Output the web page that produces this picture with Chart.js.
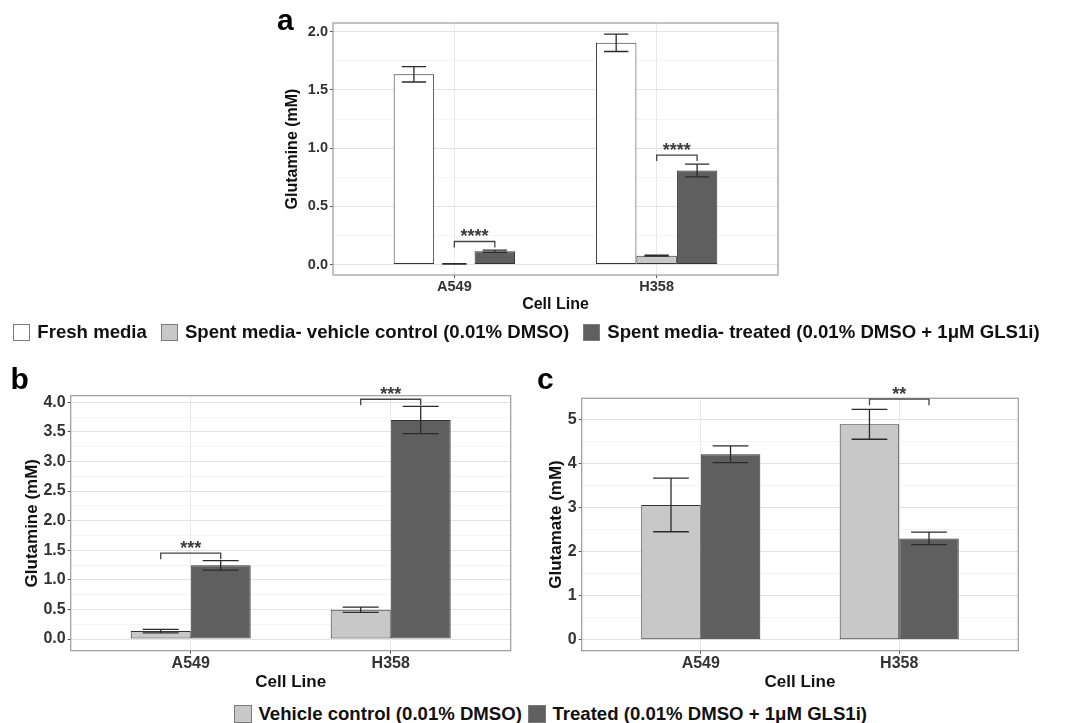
<!DOCTYPE html>
<html>
<head>
<meta charset="utf-8">
<script src="https://cdn.jsdelivr.net/npm/chart.js@4.4.1/dist/chart.umd.min.js"></script>
<style>
html, body { margin:0; padding:0; background:#fff; width:1075px; height:723px; overflow:hidden; position:relative; font-family:'Liberation Sans', Arial, sans-serif; }
canvas { position:absolute; }
.letter { position:absolute; font-weight:bold; font-size:30px; line-height:30px; color:#000; }
.legend { position:absolute; width:1075px; height:20px; display:flex; justify-content:center; align-items:center; font-weight:bold; font-size:18.6px; color:#111; white-space:nowrap; }
.item { display:flex; align-items:center; }
.sw { display:inline-block; box-sizing:border-box; border:1px solid #7a7a7a; }
</style>
</head>
<body>
<canvas id="ca" width="1075" height="320" style="left:0;top:0;width:1075px;height:320px"></canvas>
<canvas id="cb" width="530" height="360" style="left:0;top:340px;width:530px;height:360px"></canvas>
<canvas id="cc" width="545" height="360" style="left:530px;top:340px;width:545px;height:360px"></canvas>
<div class="letter" style="left:277px;top:4.6px">a</div>
<div class="letter" style="left:10.5px;top:363.6px">b</div>
<div class="letter" style="left:537px;top:363.6px">c</div>
<div id="legA" class="legend" style="left:-11px;top:322px"></div>
<div id="legBC" class="legend" style="left:13px;top:704px"></div>
<script>
// ---------- data ----------
const cellLines = ['A549', 'H358'];

// Panel a: Glutamine (mM)
const aFresh = [1.634, 1.905];
const aFreshErr = [0.066, 0.075];
const aVehicle = [0.005, 0.076];
const aVehicleErr = [0.002, 0.004];
const aTreated = [0.114, 0.808];
const aTreatedErr = [0.009, 0.055];
const aYTicks = [0, 0.5, 1.0, 1.5, 2.0];
const aYRange = [-0.09, 2.075];
const aSigCat = [0, 1];
const aSigY = [0.198, 0.94];
const aSigLabel = ['****', '****'];

// Panel b: Glutamine (mM)
const bVehicle = [0.135, 0.495];
const bVehicleErr = [0.03, 0.045];
const bTreated = [1.245, 3.70];
const bTreatedErr = [0.08, 0.23];
const bYTicks = [0, 0.5, 1.0, 1.5, 2.0, 2.5, 3.0, 3.5, 4.0];
const bYRange = [-0.196, 4.11];
const bSigCat = [0, 1];
const bSigY = [1.45, 4.05];
const bSigLabel = ['***', '***'];

// Panel c: Glutamate (mM)
const cVehicle = [3.06, 4.89];
const cVehicleErr = [0.61, 0.34];
const cTreated = [4.21, 2.30];
const cTreatedErr = [0.19, 0.14];
const cYTicks = [0, 1, 2, 3, 4, 5];
const cYRange = [-0.25, 5.48];
const cSigCat = [1];
const cSigY = [5.46];
const cSigLabel = ['**'];

const legendA = ['Fresh media', 'Spent media- vehicle control (0.01% DMSO)', 'Spent media- treated (0.01% DMSO + 1μM GLS1i)'];
const legendBC = ['Vehicle control (0.01% DMSO)', 'Treated (0.01% DMSO + 1μM GLS1i)'];

const COL_FRESH = '#ffffff';
const COL_VEHICLE = '#c8c8c8';
const COL_TREATED = '#5f5f5f';
const X_RANGE = [0.4, 2.6];
const FONT = "'Liberation Sans', Arial, sans-serif";

// ---------- plugins ----------
const panelBox = {
  id: 'panelBox',
  afterDraw(chart) {
    const a = chart.chartArea, ctx = chart.ctx;
    ctx.save();
    ctx.strokeStyle = '#9a9a9a';
    ctx.lineWidth = 1.2;
    ctx.strokeRect(a.left, a.top, a.right - a.left, a.bottom - a.top);
    ctx.restore();
  }
};

const errorBars = {
  id: 'errorBars',
  afterDatasetsDraw(chart) {
    const ctx = chart.ctx, ys = chart.scales.y;
    chart.data.datasets.forEach((ds, i) => {
      if (!ds.errors) return;
      chart.getDatasetMeta(i).data.forEach((bar, j) => {
        const v = ds.data[j].y, e = ds.errors[j];
        const yTop = ys.getPixelForValue(v + e), yBot = ys.getPixelForValue(v - e);
        const half = bar.width * 0.3;
        ctx.save();
        ctx.strokeStyle = '#2b2b2b';
        ctx.lineWidth = 1.3;
        ctx.beginPath();
        ctx.moveTo(bar.x, yTop); ctx.lineTo(bar.x, yBot);
        ctx.moveTo(bar.x - half, yTop); ctx.lineTo(bar.x + half, yTop);
        ctx.moveTo(bar.x - half, yBot); ctx.lineTo(bar.x + half, yBot);
        ctx.stroke();
        ctx.restore();
      });
    });
  }
};

function sigPlugin(cats, ys, labels, fromDs, toDs) {
  return {
    id: 'sig',
    afterDraw(chart) {
      const ctx = chart.ctx, ysc = chart.scales.y;
      cats.forEach((c, k) => {
        const b1 = chart.getDatasetMeta(fromDs).data[c];
        const b2 = chart.getDatasetMeta(toDs).data[c];
        const y = ysc.getPixelForValue(ys[k]);
        ctx.save();
        ctx.strokeStyle = '#444';
        ctx.lineWidth = 1.3;
        ctx.beginPath();
        ctx.moveTo(b1.x, y + 6); ctx.lineTo(b1.x, y); ctx.lineTo(b2.x, y); ctx.lineTo(b2.x, y + 6);
        ctx.stroke();
        ctx.fillStyle = '#3c3c3c';
        ctx.font = 'bold 18px ' + FONT;
        ctx.textAlign = 'center';
        ctx.textBaseline = 'alphabetic';
        ctx.fillText(labels[k], (b1.x + b2.x) / 2, y + 1);
        ctx.restore();
      });
    }
  };
}

// ---------- scales ----------
function yScale(major, range, decimals, tickSize, title, titleSize, titlePad, width) {
  const minor = [];
  for (let i = 0; i < major.length - 1; i++) minor.push((major[i] + major[i + 1]) / 2);
  const isMajor = v => major.some(t => Math.abs(t - v) < 1e-9);
  const isMajCtx = c => c.tick ? isMajor(c.tick.value) : true;
  return {
    type: 'linear', min: range[0], max: range[1],
    afterBuildTicks: s => { s.ticks = major.concat(minor).sort((p, q) => p - q).map(v => ({ value: v })); },
    afterFit: s => { s.width = width; },
    ticks: {
      autoSkip: false, padding: 2, color: '#333',
      font: { family: FONT, size: tickSize, weight: 'bold' },
      callback: v => isMajor(v) ? Number(v).toFixed(decimals) : ''
    },
    grid: {
      drawTicks: true, tickLength: 3,
      color: c => isMajCtx(c) ? '#e3e3e3' : '#f1f1f1',
      lineWidth: c => isMajCtx(c) ? 1 : 0.8,
      tickColor: c => isMajCtx(c) ? '#555' : 'rgba(0,0,0,0)'
    },
    border: { display: false },
    title: {
      display: true, text: title, color: '#111',
      font: { family: FONT, size: titleSize, weight: 'bold' },
      padding: { top: titlePad, bottom: 0 }
    }
  };
}

function xScale(tickSize, titleSize, titlePadBottom, height) {
  return {
    type: 'linear', min: X_RANGE[0], max: X_RANGE[1], offset: false,
    afterBuildTicks: s => { s.ticks = cellLines.map((_, i) => ({ value: i + 1 })); },
    afterFit: s => { s.height = height; },
    ticks: {
      autoSkip: false, maxRotation: 0, padding: 0, color: '#333',
      font: { family: FONT, size: tickSize, weight: 'bold' },
      callback: v => cellLines[Math.round(v) - 1]
    },
    grid: { offset: false, drawTicks: true, tickLength: 3, color: '#e9e9e9', tickColor: '#555' },
    border: { display: false },
    title: {
      display: true, text: 'Cell Line', color: '#111',
      font: { family: FONT, size: titleSize, weight: 'bold' },
      padding: { top: 0, bottom: titlePadBottom }
    }
  };
}

function makeChart(id, series, xOpts, yOpts, padding, sig) {
  return new Chart(document.getElementById(id), {
    type: 'bar',
    data: {
      datasets: series.map(s => ({
        label: s.label,
        data: cellLines.map((_, i) => ({ x: i + 1, y: s.values[i] })),
        errors: s.errors,
        backgroundColor: s.color,
        borderColor: '#333',
        borderWidth: 1,
        borderSkipped: false,
        categoryPercentage: 0.6,
        barPercentage: 1.0
      }))
    },
    options: {
      responsive: false, animation: false, events: [],
      layout: { padding },
      plugins: { legend: { display: false }, tooltip: { enabled: false } },
      scales: { x: xOpts, y: yOpts }
    },
    plugins: [panelBox, errorBars, sig]
  });
}

// Panel a
makeChart('ca', [
  { label: legendA[0], values: aFresh, errors: aFreshErr, color: COL_FRESH },
  { label: legendA[1], values: aVehicle, errors: aVehicleErr, color: COL_VEHICLE },
  { label: legendA[2], values: aTreated, errors: aTreatedErr, color: COL_TREATED }
], xScale(14.5, 16, 5.4, 45),
   yScale(aYTicks, aYRange, 1, 14.5, 'Glutamine (mM)', 16, 10.4, 60),
   { top: 23, left: 273, right: 297, bottom: 0 },
   sigPlugin(aSigCat, aSigY, aSigLabel, 1, 2));

// Panel b
makeChart('cb', [
  { label: legendBC[0], values: bVehicle, errors: bVehicleErr, color: COL_VEHICLE },
  { label: legendBC[1], values: bTreated, errors: bTreatedErr, color: COL_TREATED }
], xScale(16, 17, 7.8, 49.3),
   yScale(bYTicks, bYRange, 1, 16, 'Glutamine (mM)', 17, 11.1, 60),
   { top: 55.7, left: 10.7, right: 19.3, bottom: 0 },
   sigPlugin(bSigCat, bSigY, bSigLabel, 0, 1));

// Panel c
makeChart('cc', [
  { label: legendBC[0], values: cVehicle, errors: cVehicleErr, color: COL_VEHICLE },
  { label: legendBC[1], values: cTreated, errors: cTreatedErr, color: COL_TREATED }
], xScale(16, 17, 7.8, 49.3),
   yScale(cYTicks, cYRange, 0, 16, 'Glutamate (mM)', 17, 4.8, 40),
   { top: 58.3, left: 11.7, right: 56.7, bottom: 0 },
   sigPlugin(cSigCat, cSigY, cSigLabel, 0, 1));

// ---------- legends (HTML) ----------
function buildLegend(elId, labels, colors, swSize, swGap, itemGap) {
  const el = document.getElementById(elId);
  labels.forEach((t, i) => {
    const item = document.createElement('span');
    item.className = 'item';
    if (i < labels.length - 1) item.style.marginRight = itemGap + 'px';
    const sw = document.createElement('span');
    sw.className = 'sw';
    sw.style.width = swSize + 'px';
    sw.style.height = swSize + 'px';
    sw.style.background = colors[i];
    sw.style.marginRight = swGap + 'px';
    const tx = document.createElement('span');
    tx.textContent = t;
    item.appendChild(sw);
    item.appendChild(tx);
    el.appendChild(item);
  });
}
buildLegend('legA', legendA, [COL_FRESH, COL_VEHICLE, COL_TREATED], 17, 7, 14);
buildLegend('legBC', legendBC, [COL_VEHICLE, COL_TREATED], 18, 6.5, 6);
</script>
</body>
</html>
